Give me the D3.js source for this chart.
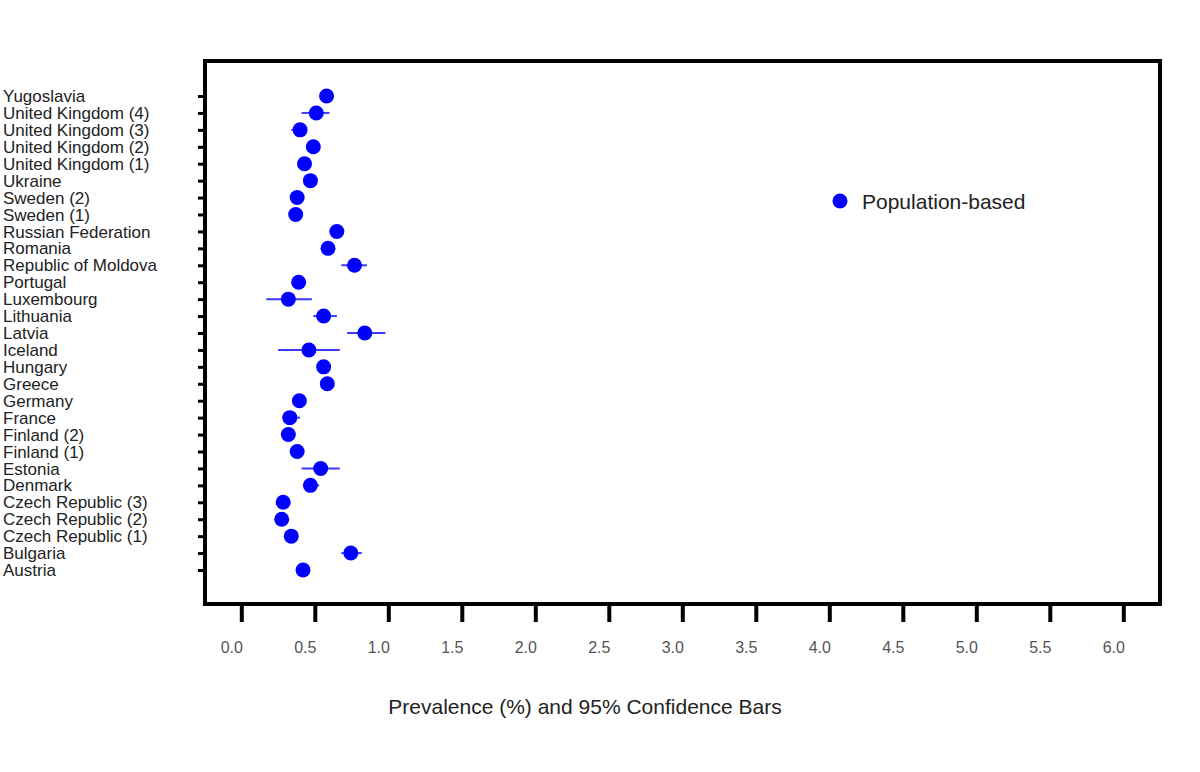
<!DOCTYPE html>
<html>
<head>
<meta charset="utf-8">
<script src="https://cdn.jsdelivr.net/npm/d3@7"></script>
<style>
  html, body { margin: 0; padding: 0; background: #fff; }
  svg { display: block; font-family: "Liberation Sans", Arial, Helvetica, sans-serif; }
</style>
</head>
<body>
<svg id="chart" width="1200" height="772"></svg>
<script>
// Categories, top to bottom
const countries = [
  "Yugoslavia", "United Kingdom (4)", "United Kingdom (3)", "United Kingdom (2)",
  "United Kingdom (1)", "Ukraine", "Sweden (2)", "Sweden (1)", "Russian Federation",
  "Romania", "Republic of Moldova", "Portugal", "Luxembourg", "Lithuania", "Latvia",
  "Iceland", "Hungary", "Greece", "Germany", "France", "Finland (2)", "Finland (1)",
  "Estonia", "Denmark", "Czech Republic (3)", "Czech Republic (2)", "Czech Republic (1)",
  "Bulgaria", "Austria"
];
// Prevalence (%) point estimates
const prevalence = [
  0.58, 0.51, 0.40, 0.49, 0.43, 0.47, 0.38, 0.37, 0.65,
  0.59, 0.77, 0.39, 0.32, 0.56, 0.84, 0.46, 0.56, 0.585,
  0.395, 0.33, 0.32, 0.38, 0.54, 0.47, 0.285, 0.275, 0.34,
  0.745, 0.42
];
// 95% confidence bounds
const lower = [
  0.56, 0.41, 0.34, 0.47, 0.41, 0.45, 0.36, 0.35, 0.63,
  0.57, 0.68, 0.37, 0.17, 0.49, 0.72, 0.25, 0.54, 0.565,
  0.375, 0.28, 0.30, 0.36, 0.41, 0.43, 0.265, 0.255, 0.32,
  0.68, 0.40
];
const upper = [
  0.60, 0.60, 0.44, 0.51, 0.45, 0.49, 0.40, 0.39, 0.67,
  0.61, 0.855, 0.41, 0.48, 0.65, 0.98, 0.67, 0.58, 0.605,
  0.415, 0.40, 0.34, 0.40, 0.67, 0.53, 0.305, 0.295, 0.36,
  0.82, 0.44
];
const xTicks = [0.0, 0.5, 1.0, 1.5, 2.0, 2.5, 3.0, 3.5, 4.0, 4.5, 5.0, 5.5, 6.0];
const legendLabel = "Population-based";
const xTitle = "Prevalence (%) and 95% Confidence Bars";

const svg = d3.select("#chart");
const frame = { left: 205, top: 61, right: 1160, bottom: 604 };

const x = d3.scaleLinear().domain([0, 6]).range([241.3, 1123.3]);
const y = d3.scalePoint().domain(countries).range([96, 570]);

const data = countries.map((c, i) => ({ c, v: prevalence[i], lo: lower[i], hi: upper[i] }));

// Frame
svg.append("rect")
  .attr("x", frame.left).attr("y", frame.top)
  .attr("width", frame.right - frame.left).attr("height", frame.bottom - frame.top)
  .attr("fill", "none").attr("stroke", "#000").attr("stroke-width", 4);

// X axis ticks
const xAxis = d3.axisBottom(x).tickValues(xTicks).tickFormat(d3.format(".1f")).tickSize(18).tickPadding(0);
const xg = svg.append("g").attr("transform", `translate(0,${frame.bottom})`).call(xAxis);
xg.select(".domain").remove();
xg.selectAll(".tick line").attr("stroke", "#000").attr("stroke-width", 4);
xg.selectAll(".tick text")
  .attr("y", 49).attr("dy", 0).attr("dx", -10)
  .attr("fill", "#555").attr("font-size", 16)
  .attr("font-family", "'Liberation Sans', Arial, sans-serif");

// Y axis ticks
const yAxis = d3.axisLeft(y).tickSize(6).tickFormat("");
const yg = svg.append("g").attr("transform", `translate(${frame.left - 1},0)`).call(yAxis);
yg.select(".domain").remove();
yg.selectAll(".tick line").attr("stroke", "#000").attr("stroke-width", 3);

// Category labels
svg.append("g").selectAll("text").data(countries).join("text")
  .attr("x", 3).attr("y", d => y(d)).attr("dy", "0.36em")
  .attr("font-size", 17).attr("fill", "#222")
  .text(d => d);

// Error bars
svg.append("g").selectAll("line").data(data).join("line")
  .attr("x1", d => x(d.lo)).attr("x2", d => x(d.hi))
  .attr("y1", d => y(d.c)).attr("y2", d => y(d.c))
  .attr("stroke", "#3a3aff").attr("stroke-width", 2);

// Points
svg.append("g").selectAll("circle").data(data).join("circle")
  .attr("cx", d => x(d.v)).attr("cy", d => y(d.c)).attr("r", 7.5)
  .attr("fill", "#0000ff");

// Legend
svg.append("circle").attr("cx", 840).attr("cy", 201).attr("r", 7.5).attr("fill", "#0000ff");
svg.append("text").attr("x", 862).attr("y", 201).attr("dy", "0.36em")
  .attr("font-size", 21).attr("fill", "#222").text(legendLabel);

// X title
svg.append("text").attr("x", 585).attr("y", 714).attr("text-anchor", "middle")
  .attr("font-size", 21).attr("fill", "#222").text(xTitle);
</script>
</body>
</html>
